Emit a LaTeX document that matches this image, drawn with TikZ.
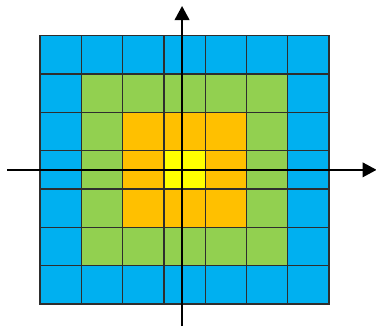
\documentclass[tikz,border=0pt]{standalone}
\usepackage{xcolor}
\usepackage{tikz}
\usetikzlibrary{arrows.meta}
\definecolor{cB}{HTML}{00B0F0}
\definecolor{cG}{HTML}{92D050}
\definecolor{cO}{HTML}{FFC000}
\definecolor{cY}{HTML}{FFFF00}
\tikzset{cell/.style={draw=black!82,line width=1.1pt},
  axis/.style={line width=1.6pt,-{Triangle[length=12pt,width=12.5pt]}}}

\begin{document}
\begin{tikzpicture}[x=1.239cm,y=1.15cm]
  \useasboundingbox (-0.968,-0.574) rectangle (8.136,7.931);
  % rings of cells round the centre
  \foreach \i in {0,...,6} \foreach \j in {0,...,6} {
    \pgfmathtruncatemacro\r{max(abs(\i-3),abs(\j-3))}
    \ifcase\r \def\c{cY}\or\def\c{cO}\or\def\c{cG}\else\def\c{cB}\fi
    \filldraw[cell,fill=\c] (\i,\j) rectangle ++(1,1);
  }
  \coordinate (xl) at (-0.79,3.5); \coordinate (xr) at (8.15,3.5);
  \coordinate (yb) at (3.44,-0.574); \coordinate (yt) at (3.44,7.775);
  \draw[axis] (xl) -- (xr);
  \draw[axis] (yb) -- (yt);
\end{tikzpicture}
\end{document}
